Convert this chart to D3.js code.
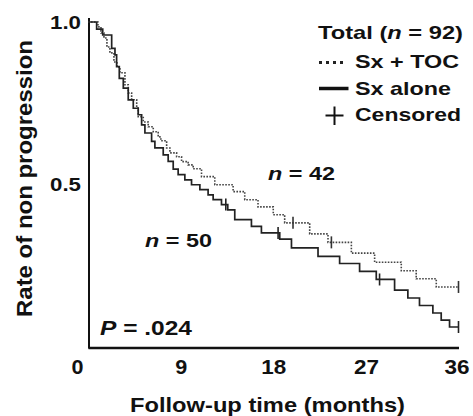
<!DOCTYPE html>
<html>
<head>
<meta charset="utf-8">
<script src="https://cdn.jsdelivr.net/npm/d3@7"></script>
<style>
  body { margin: 0; background: #fff; }
  text { font-family: "Liberation Sans", Arial, sans-serif; font-weight: bold; fill: #111; }
</style>
</head>
<body>
<div id="chart"></div>
<script>
// Kaplan-Meier steps (time in months, rate after the drop)
var soloTime = [0.84, 1.43, 2.30, 2.62, 2.78, 3.04, 3.43, 3.91, 4.40, 4.88, 5.21, 5.53, 6.18, 6.50,
  7.31, 7.79, 8.28, 8.76, 9.41, 10.06, 10.87, 11.67, 12.16, 12.97, 13.58, 14.26, 15.88, 16.85,
  18.63, 19.77, 22.35, 24.45, 26.39, 28.01, 29.79, 31.08, 32.21, 33.51, 34.32, 35.13];
var soloSurv = [0.978, 0.960, 0.919, 0.899, 0.863, 0.827, 0.797, 0.761, 0.735, 0.715, 0.684, 0.659,
  0.633, 0.613, 0.592, 0.572, 0.548, 0.531, 0.515, 0.500, 0.485, 0.469, 0.454, 0.439, 0.423, 0.393,
  0.372, 0.352, 0.333, 0.306, 0.280, 0.258, 0.234, 0.209, 0.176, 0.152, 0.129, 0.106, 0.084, 0.063];
var soloCensor = [13.39, 18.47, 28.33, 36];

var tocTime = [0.97, 1.26, 1.55, 1.84, 2.13, 2.52, 2.81, 3.10, 3.59, 3.91, 4.24, 4.73, 4.88, 5.37,
  5.85, 6.34, 6.82, 7.08, 7.64, 7.96, 8.61, 9.09, 9.73, 10.22, 11.03, 12.32, 14.10, 15.23, 16.52,
  18.0, 19.11, 21.54, 23.32, 25.59, 27.85, 30.44, 31.89, 33.84];
var tocSurv = [0.985, 0.966, 0.951, 0.923, 0.905, 0.877, 0.862, 0.844, 0.807, 0.782, 0.761, 0.736,
  0.709, 0.693, 0.678, 0.663, 0.647, 0.635, 0.613, 0.598, 0.586, 0.571, 0.561, 0.549, 0.525, 0.500,
  0.479, 0.454, 0.432, 0.408, 0.383, 0.349, 0.323, 0.290, 0.262, 0.236, 0.211, 0.186];
var tocCensor = [19.92, 23.65, 36];

var xTicks = [0, 9, 18, 27, 36];
var yTicks = [0.5, 1.0];

var width = 473, height = 416;

var svg = d3.select("#chart").append("svg")
  .attr("width", width)
  .attr("height", height);

var x = d3.scaleLinear().domain([0, 36]).range([88, 458.5]);
var y = d3.scaleLinear().domain([0, 1]).range([347.5, 22]);

// build step points from times/rates
function steps(times, surv) {
  var pts = [[0, 1]];
  for (var i = 0; i < times.length; i++) pts.push([times[i], surv[i]]);
  pts.push([36, surv[surv.length - 1]]);
  return pts;
}
function rateAt(times, surv, t) {
  var s = 1;
  for (var i = 0; i < times.length; i++) { if (times[i] <= t) s = surv[i]; }
  return s;
}

var line = d3.line()
  .x(function(d) { return x(d[0]); })
  .y(function(d) { return y(d[1]); })
  .curve(d3.curveStepAfter);

// axes
var xAxis = svg.append("g")
  .attr("transform", "translate(0," + y(0) + ")")
  .call(d3.axisBottom(x).tickValues(xTicks).tickSize(0).tickPadding(12).tickFormat(d3.format("d")));
xAxis.select(".domain").attr("stroke", "#111").attr("stroke-width", 2.5);
xAxis.selectAll(".tick text")
  .style("font-size", "21px")
  .attr("fill", "#111")
  .attr("dx", function(d) { return d === 0 ? -11 : (d === 36 ? -2 : 0); })
  .attr("textLength", function(d) { return d < 10 ? 12 : 25; })
  .attr("lengthAdjust", "spacingAndGlyphs");

var yAxis = svg.append("g")
  .attr("transform", "translate(" + (x(0) + 1) + ",0)")
  .call(d3.axisLeft(y).tickValues(yTicks).tickSize(0).tickPadding(8).tickFormat(d3.format(".1f")));
yAxis.select(".domain").remove();
yAxis.selectAll(".tick text")
  .style("font-size", "19px")
  .attr("fill", "#111")
  .attr("textLength", 31)
  .attr("lengthAdjust", "spacingAndGlyphs");

svg.append("line")
  .attr("x1", x(0) + 1).attr("x2", x(0) + 1)
  .attr("y1", y(1) - 4).attr("y2", y(0) + 1)
  .attr("stroke", "#111").attr("stroke-width", 2);

// curves
svg.append("path")
  .attr("d", line(steps(tocTime, tocSurv)))
  .attr("fill", "none")
  .attr("stroke", "#444")
  .attr("stroke-width", 1.6)
  .attr("stroke-dasharray", "1.6,1.4");

svg.append("path")
  .attr("d", line(steps(soloTime, soloSurv)))
  .attr("fill", "none")
  .attr("stroke", "#222")
  .attr("stroke-width", 1.7);

// censor marks
function censorMarks(list, times, surv, color) {
  svg.selectAll(null)
    .data(list)
    .enter()
    .append("line")
    .attr("x1", function(d) { return x(d); })
    .attr("x2", function(d) { return x(d); })
    .attr("y1", function(d) { return y(rateAt(times, surv, d)) - 6; })
    .attr("y2", function(d) { return y(rateAt(times, surv, d)) + 6; })
    .attr("stroke", color)
    .attr("stroke-width", 1.6);
}
censorMarks(tocCensor, tocTime, tocSurv, "#333");
censorMarks(soloCensor, soloTime, soloSurv, "#222");

// text helper: parts = [[string, italic], ...]
function label(px, py, parts, size, len) {
  var t = svg.append("text")
    .attr("x", px).attr("y", py)
    .style("font-size", size + "px");
  parts.forEach(function(p) {
    t.append("tspan").text(p[0]).style("font-style", p[1] ? "italic" : "normal");
  });
  if (len) t.attr("textLength", len).attr("lengthAdjust", "spacingAndGlyphs");
  return t;
}

// axis titles
label(130, 411.5, [["Follow-up time (months)", false]], 21, 275);
label(0, 0, [["Rate of non progression", false]], 22, 277)
  .attr("transform", "translate(31.5,317) rotate(-90)");

// legend
label(318, 38.5, [["Total (", false], ["n", true], [" = 92)", false]], 19, 145);
label(355, 68.3, [["Sx + TOC", false]], 19, 104);
label(355, 94.5, [["Sx alone", false]], 19, 96);
label(355, 120.5, [["Censored", false]], 19, 106);

svg.append("line")
  .attr("x1", 319).attr("x2", 346).attr("y1", 62.5).attr("y2", 62.5)
  .attr("stroke", "#222").attr("stroke-width", 3).attr("stroke-dasharray", "3,4");
svg.append("line")
  .attr("x1", 319).attr("x2", 348.5).attr("y1", 88.5).attr("y2", 88.5)
  .attr("stroke", "#111").attr("stroke-width", 3.5);
svg.append("line")
  .attr("x1", 325.5).attr("x2", 343.5).attr("y1", 115.5).attr("y2", 115.5)
  .attr("stroke", "#111").attr("stroke-width", 2);
svg.append("line")
  .attr("x1", 334.5).attr("x2", 334.5).attr("y1", 106.5).attr("y2", 125)
  .attr("stroke", "#111").attr("stroke-width", 2);

// annotations
label(268, 180, [["n", true], [" = 42", false]], 19, 67);
label(145, 246.7, [["n", true], [" = 50", false]], 19, 67);
label(100, 335, [["P", true], [" = .024", false]], 20.5, 92);
</script>
</body>
</html>
